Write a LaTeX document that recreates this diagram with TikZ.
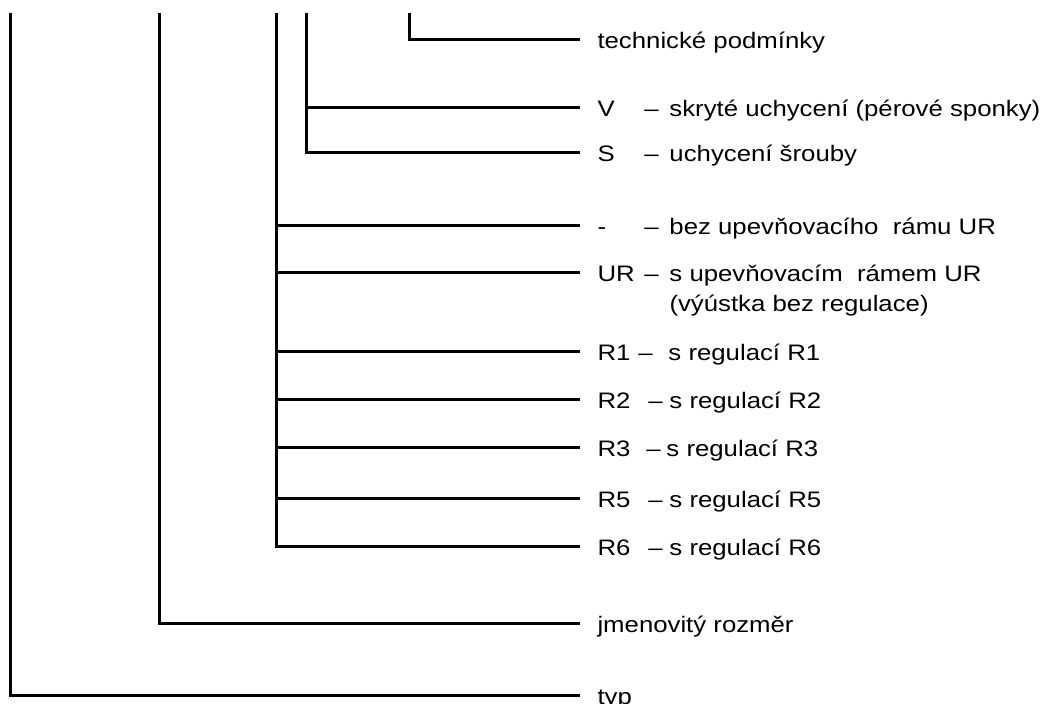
\documentclass[tikz,border=0pt]{standalone}
\usepackage{fontspec}
\setmainfont{Liberation Sans}[FakeStretch=1.15]

% code, dash and description in fixed columns
\newcommand{\variant}[4]{\makebox[#2][l]{#1}\makebox[#3][l]{–}#4}

\begin{document}
\begin{tikzpicture}[x=0.5pt, y=-0.5pt, line width=1.5pt,
    every node/.style={font=\fontsize{11.2}{15}\selectfont},
    lbl/.style={anchor=west, inner xsep=8pt, inner ysep=0pt, text height=10.5pt, text depth=2pt}]
    \useasboundingbox (0,0) rectangle (1056,704);

    % Labels
    \node[lbl] (tp) at (580,40) {technické podmínky};
    \node[lbl] (v) at (580,108) {\variant{V}{23.5pt}{12.5pt}{skryté uchycení (pérové sponky)}};
    \node[lbl] (s) at (580,153) {\variant{S}{23.5pt}{12.5pt}{uchycení šrouby}};
    \node[lbl] (bez) at (580,226) {\variant{-}{23.5pt}{12.5pt}{bez upevňovacího\ \ rámu UR}};
    \node[lbl] (ur) at (580,273) {\variant{UR}{23.5pt}{12.5pt}{s upevňovacím\ \ rámem UR}};
    \node[anchor=base west, inner sep=0pt] (ur2) at (668,312) {(výústka bez regulace)};
    \node[lbl] (r1) at (580,352) {\variant{R1}{20.5pt}{15pt}{s regulací R1}};
    \node[lbl] (r2) at (580,400) {\variant{R2}{25.5pt}{10.5pt}{s regulací R2}};
    \node[lbl] (r3) at (580,448) {\variant{R3}{24.5pt}{10pt}{s regulací R3}};
    \node[lbl] (r5) at (580,499) {\variant{R5}{25.5pt}{10.5pt}{s regulací R5}};
    \node[lbl] (r6) at (580,547) {\variant{R6}{25.5pt}{10.5pt}{s regulací R6}};
    \node[lbl] (jr) at (580,624) {jmenovitý rozměr};
    \node[lbl] (typ) at (580,696) {typ};

    % Branch tops
    \coordinate (typtop) at (10.5,13.5);
    \coordinate (jrtop) at (159.5,13.5);
    \coordinate (rtop) at (276,13.5);
    \coordinate (vstop) at (306,13.5);
    \coordinate (tptop) at (409.5,13.5);

    % Connectors
    \draw (tptop) |- (tp.west);
    \draw (vstop) |- (s.west);
    \draw (vstop |- v.west) -- (v.west);
    \draw (rtop) |- (r6.west);
    \foreach \n in {bez,ur,r1,r2,r3,r5}
        \draw (rtop |- \n.west) -- (\n.west);
    \draw (jrtop) |- (jr.west);
    \draw (typtop) |- (typ.west);
\end{tikzpicture}
\end{document}
